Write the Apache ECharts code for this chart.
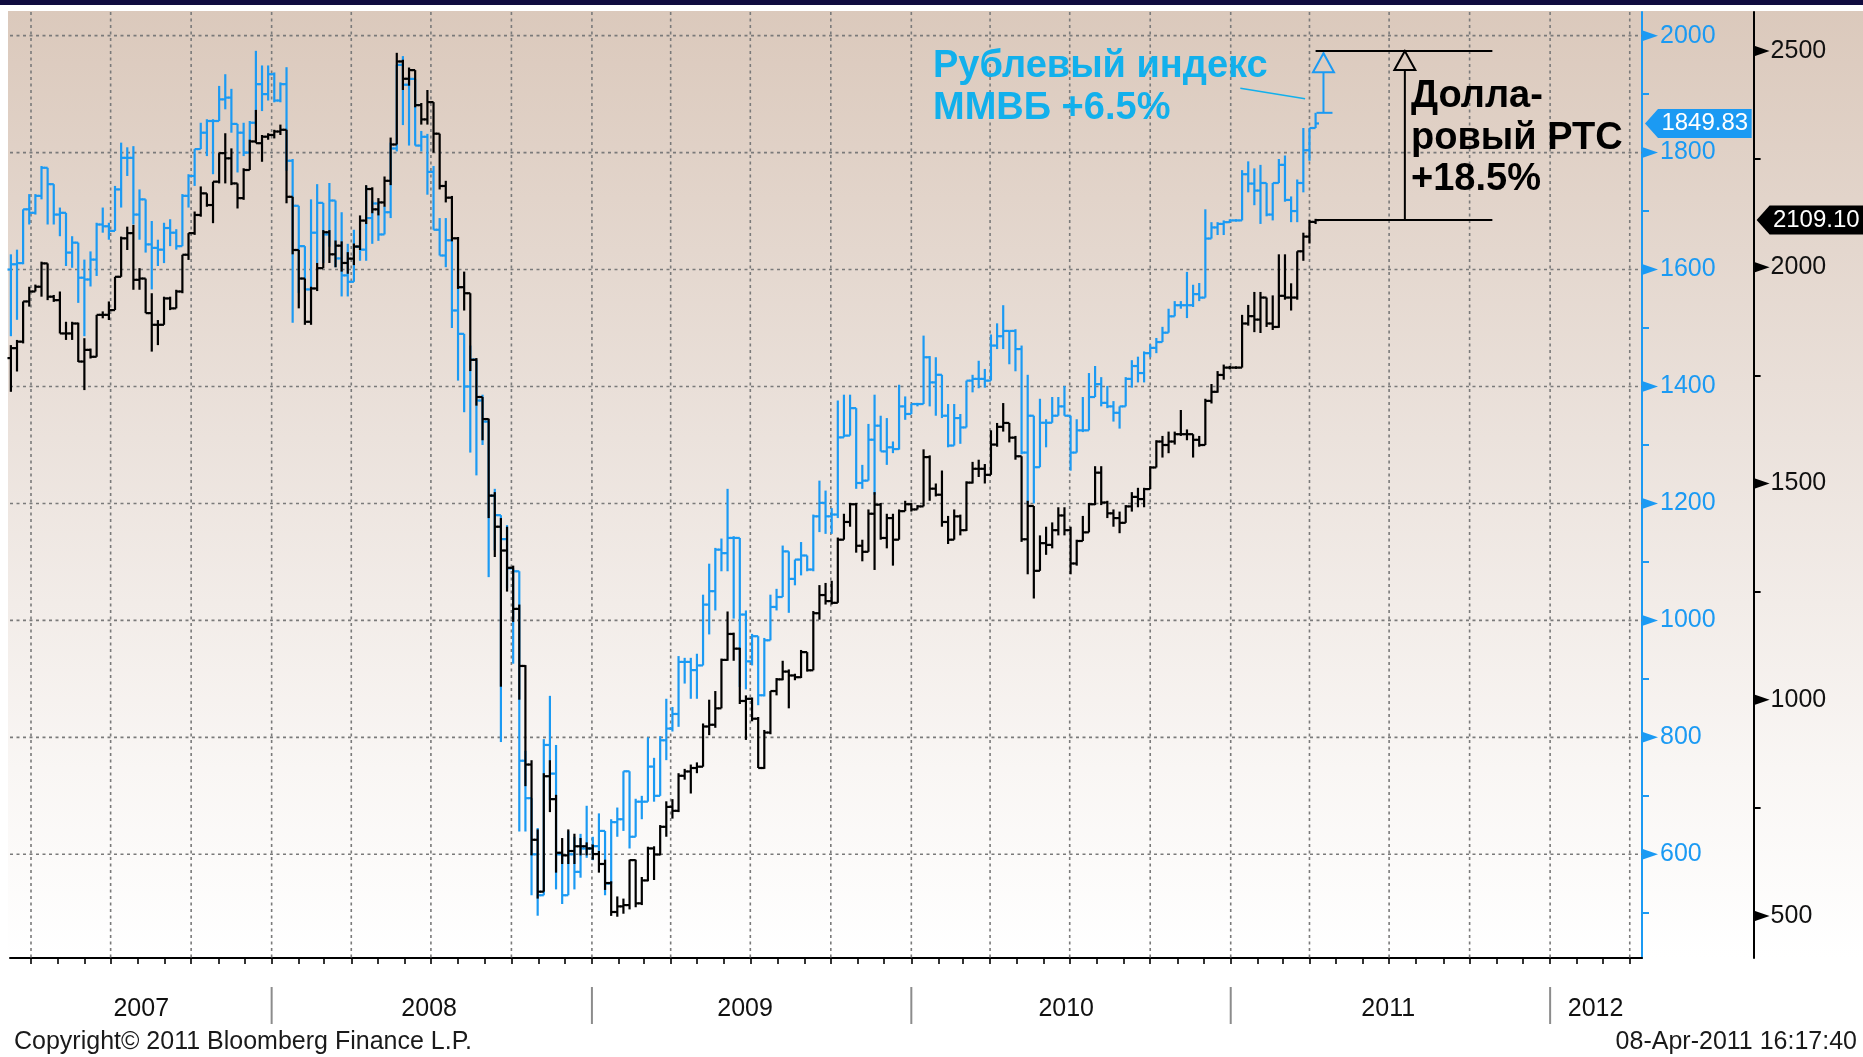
<!DOCTYPE html>
<html><head><meta charset="utf-8">
<script src="https://cdn.jsdelivr.net/npm/echarts@6/dist/echarts.min.js"></script>
<style>html,body{margin:0;padding:0;background:#fff;}#c{width:1863px;height:1057px;}</style>
</head><body><div id="c"></div>
<script>
// ---------- categories: weekly bars (week ending Friday) ----------
const weekDates = [
'2007-03-09','2007-03-16','2007-03-23','2007-03-30','2007-04-06','2007-04-13','2007-04-20','2007-04-27','2007-05-04','2007-05-11',
'2007-05-18','2007-05-25','2007-06-01','2007-06-08','2007-06-15','2007-06-22','2007-06-29','2007-07-06','2007-07-13','2007-07-20',
'2007-07-27','2007-08-03','2007-08-10','2007-08-17','2007-08-24','2007-08-31','2007-09-07','2007-09-14','2007-09-21','2007-09-28',
'2007-10-05','2007-10-12','2007-10-19','2007-10-26','2007-11-02','2007-11-09','2007-11-16','2007-11-23','2007-11-30','2007-12-07',
'2007-12-14','2007-12-21','2007-12-28',
'2008-01-04','2008-01-11','2008-01-18','2008-01-25','2008-02-01','2008-02-08','2008-02-15','2008-02-22','2008-02-29','2008-03-07',
'2008-03-14','2008-03-21','2008-03-28','2008-04-04','2008-04-11','2008-04-18','2008-04-25','2008-05-02','2008-05-09','2008-05-16',
'2008-05-23','2008-05-30','2008-06-06','2008-06-13','2008-06-20','2008-06-27','2008-07-04','2008-07-11','2008-07-18','2008-07-25',
'2008-08-01','2008-08-08','2008-08-15','2008-08-22','2008-08-29','2008-09-05','2008-09-12','2008-09-19','2008-09-26','2008-10-03',
'2008-10-10','2008-10-17','2008-10-24','2008-10-31','2008-11-07','2008-11-14','2008-11-21','2008-11-28','2008-12-05','2008-12-12',
'2008-12-19','2008-12-26',
'2009-01-02','2009-01-09','2009-01-16','2009-01-23','2009-01-30','2009-02-06','2009-02-13','2009-02-20','2009-02-27','2009-03-06',
'2009-03-13','2009-03-20','2009-03-27','2009-04-03','2009-04-10','2009-04-17','2009-04-24','2009-05-01','2009-05-08','2009-05-15',
'2009-05-22','2009-05-29','2009-06-05','2009-06-12','2009-06-19','2009-06-26','2009-07-03','2009-07-10','2009-07-17','2009-07-24',
'2009-07-31','2009-08-07','2009-08-14','2009-08-21','2009-08-28','2009-09-04','2009-09-11','2009-09-18','2009-09-25','2009-10-02',
'2009-10-09','2009-10-16','2009-10-23','2009-10-30','2009-11-06','2009-11-13','2009-11-20','2009-11-27','2009-12-04','2009-12-11',
'2009-12-18','2009-12-25',
'2010-01-01','2010-01-08','2010-01-15','2010-01-22','2010-01-29','2010-02-05','2010-02-12','2010-02-19','2010-02-26','2010-03-05',
'2010-03-12','2010-03-19','2010-03-26','2010-04-02','2010-04-09','2010-04-16','2010-04-23','2010-04-30','2010-05-07','2010-05-14',
'2010-05-21','2010-05-28','2010-06-04','2010-06-11','2010-06-18','2010-06-25','2010-07-02','2010-07-09','2010-07-16','2010-07-23',
'2010-07-30','2010-08-06','2010-08-13','2010-08-20','2010-08-27','2010-09-03','2010-09-10','2010-09-17','2010-09-24','2010-10-01',
'2010-10-08','2010-10-15','2010-10-22','2010-10-29','2010-11-05','2010-11-12','2010-11-19','2010-11-26','2010-12-03','2010-12-10',
'2010-12-17','2010-12-24','2010-12-31',
'2011-01-07','2011-01-14','2011-01-21','2011-01-28','2011-02-04','2011-02-11','2011-02-18','2011-02-25','2011-03-04','2011-03-11',
'2011-03-18','2011-03-25','2011-04-01','2011-04-08'
];

// ---------- MICEX (ruble index, blue, inner right axis) ----------
const micexOpen = [
1600,1609,1611,1703,1697,1726,1774,1746,1694,1697, 1629,1646,1586,1583,1617,1677,1674,1666,1737,1791,
1791,1694,1720,1643,1637,1634,1671,1663,1640,1726, 1760,1806,1834,1854,1854,1891,1894,1849,1834,1800,
1851,1917,1900,1934,1889,1917,1786,1709,1640,1566, 1663,1714,1660,1718,1619,1590,1579,1639,1634,1688,
1713,1660,1698,1807,1950,1916,1926,1812,1827,1767, 1668,1624,1650,1530,1490,1400,1446,1376,1340,1213,
1180,1139,1089,1084,760,696,600,530,787,738, 600,530,600,570,610,610,614,640,550,655,
660,742,630,690,690,750,700,795,815,840, 929,929,915,923,1027,1050,1121,1115,1141,1141,
1010,930,973,872,966,1023,1040,1118,1071,1104, 1111,1087,1178,1201,1178,1181,1313,1316,1363,1235,
1239,1309,1333,1289,1296,1293,1366,1353,1370,1370, 1450,1407,1420,1350,1299,1346,1330,1410,1413,1413,
1410,1470,1486,1495,1495,1464,1287,1350,1262,1338, 1338,1350,1366,1350,1287,1325,1325,1382,1404,1372,
1366,1355,1366,1413,1435,1423,1457,1466,1476,1492, 1520,1539,1539,1539,1558,1552,1653,1672,1678,1681,
1684,1684,1763,1747,1735,1748,1694,1748,1779,1719, 1700,1748,1804,1842
];
const micexHigh = [
1626,1634,1703,1729,1729,1777,1774,1746,1706,1697, 1657,1646,1617,1631,1680,1706,1680,1743,1817,1809,
1811,1737,1720,1683,1651,1680,1686,1669,1729,1763, 1806,1851,1857,1857,1914,1934,1909,1849,1851,1854,
1974,1949,1949,1937,1920,1946,1789,1709,1640,1720, 1746,1714,1748,1718,1698,1644,1668,1650,1743,1718,
1713,1708,1817,1950,1965,1931,1926,1837,1832,1777, 1688,1688,1650,1599,1490,1470,1446,1386,1340,1225,
1180,1163,1089,1084,777,696,645,797,871,787, 600,640,630,635,683,630,670,640,660,680,
742,742,695,700,800,765,802,866,852,939, 936,936,943,1044,1097,1124,1140,1225,1144,1141,
1017,977,973,970,1044,1054,1128,1118,1104,1134, 1111,1181,1239,1222,1192,1376,1386,1386,1363,1266,
1336,1386,1350,1346,1306,1403,1383,1370,1372,1487, 1452,1450,1420,1370,1370,1353,1410,1420,1444,1430,
1489,1508,1539,1495,1498,1470,1420,1350,1379,1344, 1382,1382,1401,1350,1344,1382,1423,1435,1416,1401,
1375,1366,1416,1445,1451,1460,1472,1483,1502,1533, 1546,1546,1596,1574,1577,1703,1681,1681,1684,1686,
1686,1770,1785,1773,1779,1748,1748,1789,1795,1725, 1754,1842,1842,1868
];
const micexLow = [
1486,1514,1609,1677,1694,1720,1677,1677,1657,1606, 1603,1543,1486,1571,1589,1663,1651,1666,1706,1760,
1677,1651,1629,1566,1606,1611,1640,1634,1640,1706, 1743,1806,1794,1763,1854,1874,1834,1766,1794,1800,
1846,1871,1889,1886,1886,1769,1509,1560,1566,1566, 1611,1611,1639,1604,1554,1554,1579,1615,1615,1644,
1649,1660,1688,1802,1847,1812,1812,1802,1728,1668, 1624,1604,1500,1410,1356,1287,1248,1300,1074,1120,
792,1055,926,639,639,530,495,530,693,540, 515,530,540,560,594,590,600,530,550,630,
640,610,630,660,690,690,700,761,810,818, 892,866,866,923,976,1017,1084,1084,1003,886,
882,923,855,870,966,1017,1040,1013,1060,1077, 1084,1084,1151,1148,1148,1175,1313,1316,1225,1225,
1239,1215,1289,1266,1286,1292,1343,1353,1366,1370, 1366,1350,1346,1296,1299,1302,1330,1390,1397,1398,
1410,1464,1464,1438,1426,1284,1200,1200,1262,1296, 1338,1350,1350,1256,1287,1322,1325,1382,1366,1363,
1340,1328,1366,1398,1407,1407,1450,1457,1476,1492, 1520,1533,1517,1536,1546,1552,1653,1659,1659,1680,
1682,1684,1732,1710,1678,1691,1684,1748,1716,1681, 1681,1732,1786,1842
];
const micexClose = [
1609,1611,1703,1697,1726,1774,1746,1694,1697,1629, 1646,1586,1583,1617,1677,1674,1666,1737,1791,1791,
1694,1720,1643,1637,1634,1671,1663,1640,1726,1760, 1806,1834,1854,1854,1891,1894,1849,1834,1800,1851,
1917,1900,1934,1889,1917,1786,1709,1640,1566,1663, 1714,1660,1718,1619,1590,1579,1639,1634,1688,1713,
1660,1698,1807,1950,1916,1926,1812,1827,1767,1668, 1624,1650,1530,1490,1400,1446,1376,1340,1213,1180,
1139,1089,1084,760,696,600,530,787,738,600, 530,600,570,610,610,614,640,550,655,660,
742,630,690,690,750,700,795,815,840,929, 929,915,923,1027,1050,1121,1115,1141,1141,1010,
930,973,872,966,1023,1040,1118,1071,1104,1111, 1087,1178,1201,1178,1181,1313,1316,1363,1235,1239,
1309,1333,1289,1296,1293,1366,1353,1370,1370,1450, 1407,1420,1350,1299,1346,1330,1410,1413,1413,1410,
1470,1486,1495,1495,1464,1287,1350,1262,1338,1338, 1350,1366,1350,1287,1325,1325,1382,1404,1372,1366,
1355,1366,1413,1435,1423,1457,1466,1476,1492,1520, 1539,1539,1539,1558,1552,1653,1672,1678,1681,1684,
1684,1763,1747,1735,1748,1694,1748,1779,1719,1700, 1748,1804,1842,1849.83
];

// ---------- RTS (dollar index, black, outer right axis) ----------
const rtsOpen = [
1790,1813,1828,1921,1944,1955,2009,1932,1924,1847, 1847,1870,1782,1809,1793,1890,1890,1901,1978,2067,
2079,1971,1974,1894,1867,1867,1928,1905,1944,2029, 2079,2121,2171,2144,2198,2264,2252,2194,2160,2225,
2291,2287,2302,2306,2314,2318,2163,2040,1974,1874, 1951,1998,2081,2030,2050,2010,2020,2048,2108,2181,
2134,2150,2200,2284,2476,2436,2456,2375,2342,2382, 2309,2188,2161,2067,1954,1940,1786,1700,1649,1472,
1400,1345,1305,1210,1078,850,676,556,823,770, 646,640,650,661,661,656,643,620,576,509,
522,525,629,529,582,656,642,706,752,743, 824,834,842,845,938,942,980,1092,1152,1118,
997,1002,956,842,924,1020,1047,1065,1056,1052, 1110,1068,1200,1242,1228,1224,1370,1411,1452,1356,
1342,1430,1451,1374,1420,1370,1436,1452,1440,1447, 1561,1488,1474,1411,1370,1424,1392,1502,1534,1534,
1520,1590,1631,1640,1606,1563,1371,1448,1298,1362, 1358,1392,1426,1392,1315,1367,1387,1452,1525,1456,
1431,1420,1409,1447,1469,1464,1487,1537,1597,1589, 1597,1614,1614,1614,1601,1589,1691,1712,1751,1768,
1768,1768,1870,1887,1879,1930,1870,1862,1934,1930, 1930,2037,2071,2105
];
const rtsHigh = [
1820,1832,1921,1955,1960,2013,2009,1936,1944,1874, 1874,1872,1836,1812,1890,1898,1921,1978,2071,2094,
2098,1998,1974,1940,1878,1932,1932,1948,2029,2079, 2129,2187,2171,2198,2264,2310,2275,2194,2229,2295,
2364,2306,2310,2318,2330,2318,2163,2040,1974,1955, 2010,2086,2086,2062,2060,2035,2055,2120,2190,2185,
2160,2210,2300,2496,2480,2462,2456,2380,2410,2380, 2300,2200,2165,2070,1990,1940,1790,1700,1650,1480,
1420,1400,1310,1220,1080,860,700,830,860,780, 680,700,690,680,670,665,650,630,580,545,
540,630,630,590,660,661,710,765,770,830, 840,850,855,945,1000,1020,1095,1204,1155,1120,
1010,1005,960,930,1020,1050,1090,1070,1060,1115, 1110,1205,1265,1270,1275,1375,1430,1455,1455,1370,
1440,1480,1455,1430,1430,1440,1460,1455,1450,1579, 1565,1500,1530,1425,1440,1428,1505,1550,1555,1545,
1623,1640,1686,1640,1610,1563,1460,1448,1380,1400, 1410,1445,1445,1400,1370,1425,1455,1540,1540,1460,
1440,1435,1450,1480,1490,1490,1540,1600,1610,1620, 1620,1670,1625,1614,1610,1696,1730,1760,1775,1772,
1771,1890,1913,1943,1943,1909,1935,2030,2030,1963, 2037,2080,2110,2112
];
const rtsLow = [
1712,1759,1824,1909,1944,1932,1924,1920,1847,1832, 1832,1781,1716,1789,1797,1882,1878,1901,1978,2040,
1948,1948,1894,1805,1820,1901,1901,1921,1940,2017, 2075,2117,2140,2102,2194,2194,2190,2136,2156,2225,
2287,2244,2295,2298,2306,2148,2030,1905,1867,1867, 1945,2040,2010,2000,1990,1985,2005,2040,2100,2125,
2120,2140,2190,2284,2410,2420,2370,2330,2330,2265, 2180,2150,2060,1950,1900,1760,1680,1600,1420,1330,
1030,1250,1180,1000,800,640,540,556,740,600, 620,620,620,640,640,630,600,560,500,498,
505,515,520,525,580,583,640,683,725,740, 815,783,830,845,918,935,980,1090,1090,990,
907,950,842,840,920,1010,1045,980,1045,1050, 1065,1068,1185,1220,1220,1224,1370,1400,1340,1320,
1342,1300,1370,1350,1310,1370,1436,1435,1440,1447, 1460,1470,1400,1360,1370,1380,1390,1500,1515,1500,
1520,1585,1620,1595,1555,1365,1290,1234,1298,1335, 1350,1380,1380,1290,1310,1367,1387,1450,1450,1420,
1400,1385,1409,1435,1445,1445,1487,1537,1560,1570, 1590,1610,1600,1560,1585,1589,1685,1710,1740,1764,
1765,1768,1865,1850,1848,1862,1855,1860,1925,1900, 1925,2015,2055,2100
];
const rtsClose = [
1813,1828,1921,1944,1955,2009,1932,1924,1847,1847, 1870,1782,1809,1793,1890,1890,1901,1978,2067,2079,
1971,1974,1894,1867,1867,1928,1905,1944,2029,2079, 2121,2171,2144,2198,2264,2252,2194,2160,2225,2291,
2287,2302,2306,2314,2318,2163,2040,1974,1874,1951, 1998,2081,2030,2050,2010,2020,2048,2108,2181,2134,
2150,2200,2284,2476,2436,2456,2375,2342,2382,2309, 2188,2161,2067,1954,1940,1786,1700,1649,1472,1400,
1345,1305,1210,1078,850,676,556,823,770,646, 640,650,661,661,656,643,620,576,509,522,
525,629,529,582,656,642,706,752,743,824, 834,842,845,938,942,980,1092,1152,1118,997,
1002,956,842,924,1020,1047,1065,1056,1052,1110, 1068,1200,1242,1228,1224,1370,1411,1452,1356,1342,
1430,1451,1374,1420,1370,1436,1452,1440,1447,1561, 1488,1474,1411,1370,1424,1392,1502,1534,1534,1520,
1590,1631,1640,1606,1563,1371,1448,1298,1362,1358, 1392,1426,1392,1315,1367,1387,1452,1525,1456,1431,
1420,1409,1447,1469,1464,1487,1537,1597,1589,1597, 1614,1614,1614,1601,1589,1691,1712,1751,1768,1768,
1768,1870,1887,1879,1930,1870,1862,1934,1930,1930, 2037,2071,2105,2109.10
];

// ---------- axis ticks & labels ----------
const micexTicks = [600, 800, 1000, 1200, 1400, 1600, 1800, 2000];
const micexMinorTicks = [500, 700, 900, 1100, 1300, 1500, 1700, 1900];
const rtsTicks = [500, 1000, 1500, 2000, 2500];
const rtsMinorTicks = [750, 1250, 1750, 2250];
const yearLabels = ['2007', '2008', '2009', '2010', '2011', '2012'];
const yearLabelDates = ['2007-08-05', '2008-06-29', '2009-06-25', '2010-06-27', '2011-06-30', '2012-02-22'];
const yearStarts = ['2008-01-01', '2009-01-01', '2010-01-01', '2011-01-01', '2012-01-01'];

// ---------- annotation values ----------
const lastDate = '2011-04-08';
const lastMicex = 1849.83, lastRts = 2109.10;
const micexArrowBase = 1868, micexTarget = 1970;   // +6.5%
const rtsTarget = 2500;                            // +18.5%
const blueArrowDate = '2011-04-17', blackArrowDate = '2011-07-19', levelLineEnd = '2011-10-27';
const leaderFrom = ['2011-01-12', 1910], leaderTo = ['2011-03-27', 1892];

// ---------- layout / style ----------
const X_MIN = '2007-03-08', X_MAX = '2012-04-15';
const MICEX_MIN = 422.7, MICEX_MAX = 2040.4;
const RTS_MIN = 402.6, RTS_MAX = 2590.4;
const RTS_OFFSET = 111.6;
const FONT = "'Liberation Sans', Arial, sans-serif";
const BLUE = '#1b9af3', BLUE_TXT = '#12b0ec', BLACK = '#000000', GRID = '#7a7a7a';
const BAR_W = 2.2;

const T = s => new Date(s + 'T00:00:00Z').getTime();

const monthTicks = [];
for (let y = 2007; y <= 2012; y++) for (let m = 1; m <= 12; m++) {
  const s = y + '-' + String(m).padStart(2, '0') + '-01';
  if (s > X_MIN && s < X_MAX) monthTicks.push(s);
}
const quarterTicks = monthTicks.filter(s => ['01', '04', '07', '10'].includes(s.slice(5, 7)));
const yearLabelPos = yearLabelDates.map(T);

function ohlcRender(color) {
  return function (params, api) {
    const t = api.value(0);
    const o = api.coord([t, api.value(1)]);
    const h = api.coord([t, api.value(2)]);
    const l = api.coord([t, api.value(3)]);
    const c = api.coord([t, api.value(4)]);
    const x = o[0];
    const top = Math.min(h[1], o[1], c[1]);
    const bot = Math.max(l[1], o[1], c[1]);
    const st = { stroke: color, lineWidth: BAR_W };
    return { type: 'group', children: [
      { type: 'line', shape: { x1: x, y1: top, x2: x, y2: bot }, style: st },
      { type: 'line', shape: { x1: x - 3.4, y1: o[1], x2: x, y2: o[1] }, style: st },
      { type: 'line', shape: { x1: x, y1: c[1], x2: x + 3.4, y2: c[1] }, style: st }
    ]};
  };
}
function ohlcSeries(name, O, H, L, C, color, yIdx, z) {
  return {
    type: 'custom', name, xAxisIndex: 0, yAxisIndex: yIdx, z, clip: false, silent: true,
    dimensions: ['t', 'open', 'high', 'low', 'close'], encode: { x: 0, y: [1, 2, 3, 4] },
    data: weekDates.map((d, i) => [T(d), O[i], H[i], L[i], C[i]]),
    renderItem: ohlcRender(color)
  };
}
function markerSeries(ticks, yIdx, xOff, color) {
  return {
    type: 'custom', xAxisIndex: 0, yAxisIndex: yIdx, z: 6, clip: false, silent: true,
    data: ticks.map(v => [T(X_MAX), v]),
    renderItem(params, api) {
      const cs = params.coordSys;
      const y = api.coord([api.value(0), api.value(1)])[1];
      const x0 = cs.x + cs.width + xOff;
      return { type: 'polygon', shape: { points: [[x0, y - 5.5], [x0 + 16, y], [x0, y + 5.5]] }, style: { fill: color } };
    }
  };
}
function flagShape(x0, right, y, fill, text) {
  const hh = 14.5;
  return [
    { type: 'polygon', shape: { points: [[x0, y], [x0 + 13, y - hh], [right, y - hh], [right, y + hh], [x0 + 13, y + hh]] }, style: { fill } },
    { type: 'text', x: (x0 + 13 + right) / 2, y: y, style: { text, fill: '#fff', fontSize: 24, fontFamily: FONT, align: 'center', verticalAlign: 'middle' } }
  ];
}
function hollowArrow(x, yBase, yTip, color) {
  return [
    { type: 'line', shape: { x1: x, y1: yBase, x2: x, y2: yTip + 19 }, style: { stroke: color, lineWidth: 2 } },
    { type: 'polygon', shape: { points: [[x, yTip], [x - 10.5, yTip + 19], [x + 10.5, yTip + 19]] }, style: { stroke: color, fill: null, lineWidth: 2 } }
  ];
}
const plainNum = v => String(v);

const chart = echarts.init(document.getElementById('c'), null, { renderer: 'canvas', width: 1863, height: 1057 });
chart.setOption({
  animation: false,
  backgroundColor: '#ffffff',
  grid: { left: 10, right: 221, top: 12, bottom: 99, containLabel: false, outerBoundsMode: 'none' },
  xAxis: [{
    type: 'value', min: T(X_MIN), max: T(X_MAX), scale: true,
    axisLine: { show: true, onZero: false, lineStyle: { color: '#000', width: 2 } },
    axisTick: { show: true, customValues: monthTicks.map(T), length: 6, lineStyle: { color: '#000', width: 1.6 } },
    axisLabel: { show: true, customValues: yearLabelPos, margin: 39, fontSize: 25, fontFamily: FONT, color: '#111',
      formatter: v => { const i = yearLabelPos.indexOf(v); return i >= 0 ? yearLabels[i] : ''; } },
    splitLine: { show: false }
  }],
  yAxis: [{
    type: 'value', position: 'right', offset: 0, min: MICEX_MIN, max: MICEX_MAX,
    axisLine: { show: true, onZero: false, lineStyle: { color: BLUE, width: 2 } },
    axisTick: { show: true, customValues: micexMinorTicks, length: 7, lineStyle: { color: BLUE, width: 2 } },
    axisLabel: { show: true, customValues: micexTicks, margin: 18, fontSize: 25, fontFamily: FONT, color: BLUE, formatter: plainNum },
    splitLine: { show: false }
  }, {
    type: 'value', position: 'right', offset: RTS_OFFSET, min: RTS_MIN, max: RTS_MAX,
    axisLine: { show: true, onZero: false, lineStyle: { color: '#000', width: 2 } },
    axisTick: { show: true, customValues: rtsMinorTicks, length: 7, lineStyle: { color: '#000', width: 2 } },
    axisLabel: { show: true, customValues: rtsTicks, margin: 17, fontSize: 25, fontFamily: FONT, color: '#111', formatter: plainNum },
    splitLine: { show: false }
  }],
  graphic: { elements: [
    { type: 'rect', z: -10, silent: true, shape: { x: 8, y: 11, width: 1855, height: 947 },
      style: { fill: { type: 'linear', x: 0, y: 0, x2: 0, y2: 1, colorStops: [
        { offset: 0, color: '#dbc9bc' }, { offset: 0.45, color: '#ebe2dc' }, { offset: 0.8, color: '#f9f6f4' }, { offset: 1, color: '#ffffff' } ] } } },
    { type: 'rect', z: 10, silent: true, shape: { x: 0, y: 0, width: 1863, height: 5 }, style: { fill: '#100c3f' } },
    { type: 'text', z: 10, x: 933, y: 46, style: { text: 'Рублевый индекс\nММВБ +6.5%', fontSize: 38, fontWeight: 'bold', fontFamily: FONT, fill: BLUE_TXT, lineHeight: 42, align: 'left', verticalAlign: 'top' } },
    { type: 'text', z: 10, x: 1411, y: 76, style: { text: 'Долла-\nровый РТС\n+18.5%', fontSize: 38, fontWeight: 'bold', fontFamily: FONT, fill: '#000', lineHeight: 41.5, align: 'left', verticalAlign: 'top' } },
    { type: 'text', z: 10, x: 14, y: 1042, style: { text: 'Copyright© 2011 Bloomberg Finance L.P.', fontSize: 25, fontFamily: FONT, fill: '#1a1a1a', align: 'left', verticalAlign: 'middle' } },
    { type: 'text', z: 10, x: 1857, y: 1042, style: { text: '08-Apr-2011 16:17:40', fontSize: 25, fontFamily: FONT, fill: '#1a1a1a', align: 'right', verticalAlign: 'middle' } }
  ]},
  series: [
    { // vertical quarter grid lines
      type: 'custom', xAxisIndex: 0, yAxisIndex: 0, z: 1, clip: false, silent: true,
      data: quarterTicks.map(s => [T(s), MICEX_MIN]),
      renderItem(params, api) {
        const cs = params.coordSys;
        const x = api.coord([api.value(0), api.value(1)])[0];
        return { type: 'line', shape: { x1: x, y1: cs.y, x2: x, y2: cs.y + cs.height }, style: { stroke: GRID, lineWidth: 1.6, lineDash: [3, 3.5] } };
      }
    },
    { // horizontal grid lines at MICEX majors
      type: 'custom', xAxisIndex: 0, yAxisIndex: 0, z: 1, clip: false, silent: true,
      data: micexTicks.map(v => [T(X_MIN), v]),
      renderItem(params, api) {
        const cs = params.coordSys;
        const y = api.coord([api.value(0), api.value(1)])[1];
        return { type: 'line', shape: { x1: cs.x, y1: y, x2: cs.x + cs.width, y2: y }, style: { stroke: GRID, lineWidth: 1.6, lineDash: [3, 3.5] } };
      }
    },
    { // year separators under the axis
      type: 'custom', xAxisIndex: 0, yAxisIndex: 0, z: 1, clip: false, silent: true,
      data: yearStarts.map(s => [T(s), MICEX_MIN]),
      renderItem(params, api) {
        const cs = params.coordSys;
        const x = api.coord([api.value(0), api.value(1)])[0];
        const b = cs.y + cs.height;
        return { type: 'line', shape: { x1: x, y1: b + 29, x2: x, y2: b + 66 }, style: { stroke: '#8c8c8c', lineWidth: 2 } };
      }
    },
    markerSeries(micexTicks, 0, 0, BLUE),
    markerSeries(rtsTicks, 1, RTS_OFFSET, '#000'),
    ohlcSeries('ММВБ', micexOpen, micexHigh, micexLow, micexClose, BLUE, 0, 3),
    ohlcSeries('РТС', rtsOpen, rtsHigh, rtsLow, rtsClose, BLACK, 1, 4),
    { // blue annotations: +6.5% arrow, leader line, last-value flag
      type: 'custom', xAxisIndex: 0, yAxisIndex: 0, z: 7, clip: false, silent: true,
      data: [[T(lastDate), lastMicex]],
      renderItem(params, api) {
        const cs = params.coordSys;
        const pb = api.coord([T(blueArrowDate), micexArrowBase]);
        const yt = api.coord([T(blueArrowDate), micexTarget])[1];
        const p1 = api.coord([T(leaderFrom[0]), leaderFrom[1]]);
        const p2 = api.coord([T(leaderTo[0]), leaderTo[1]]);
        const yl = api.coord([api.value(0), api.value(1)])[1];
        const x0 = cs.x + cs.width + 3;
        return { type: 'group', children: [
          { type: 'line', shape: { x1: pb[0] - 7, y1: pb[1], x2: pb[0] + 9, y2: pb[1] }, style: { stroke: BLUE, lineWidth: 2 } },
          ...hollowArrow(pb[0], pb[1], yt, BLUE),
          { type: 'line', shape: { x1: p1[0], y1: p1[1], x2: p2[0], y2: p2[1] }, style: { stroke: BLUE_TXT, lineWidth: 1.5 } },
          ...flagShape(x0, cs.x + cs.width + RTS_OFFSET - 2, yl, BLUE, lastMicex.toFixed(2))
        ]};
      }
    },
    { // black annotations: level lines, +18.5% arrow, last-value flag
      type: 'custom', xAxisIndex: 0, yAxisIndex: 1, z: 7, clip: false, silent: true,
      data: [[T(lastDate), lastRts]],
      renderItem(params, api) {
        const cs = params.coordSys;
        const pTopA = api.coord([api.value(0), rtsTarget]);
        const pTopB = api.coord([T(levelLineEnd), rtsTarget]);
        const pLowA = api.coord([api.value(0), api.value(1)]);
        const pLowB = api.coord([T(levelLineEnd), api.value(1)]);
        const xa = api.coord([T(blackArrowDate), rtsTarget])[0];
        const x0 = cs.x + cs.width + RTS_OFFSET + 3;
        return { type: 'group', children: [
          { type: 'line', shape: { x1: pTopA[0], y1: pTopA[1], x2: pTopB[0], y2: pTopB[1] }, style: { stroke: '#000', lineWidth: 2 } },
          { type: 'line', shape: { x1: pLowA[0], y1: pLowA[1], x2: pLowB[0], y2: pLowB[1] }, style: { stroke: '#000', lineWidth: 2 } },
          ...hollowArrow(xa, pLowA[1], pTopA[1], '#000'),
          ...flagShape(x0, 1863, pLowA[1], '#000', lastRts.toFixed(2))
        ]};
      }
    }
  ]
});
</script>
</body></html>
